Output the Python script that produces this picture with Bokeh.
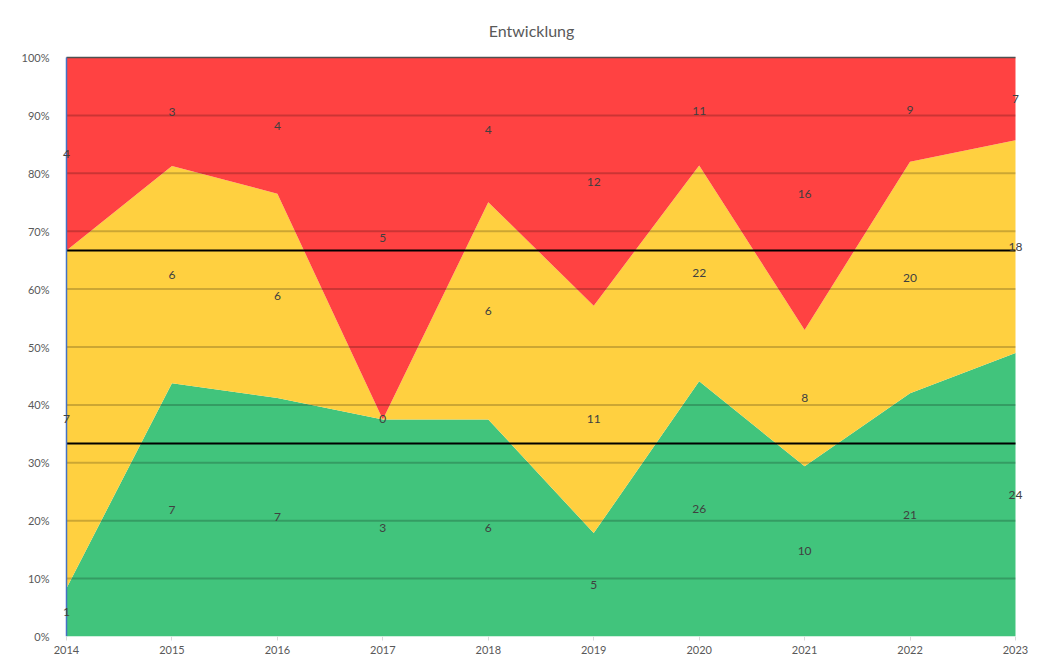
from bokeh.plotting import figure
from bokeh.models import ColumnDataSource, LabelSet, Label, FixedTicker, CustomJSTickFormatter
from bokeh.embed import file_html
from bokeh.resources import INLINE
from bokeh.core.properties import value

years = [2014, 2015, 2016, 2017, 2018, 2019, 2020, 2021, 2022, 2023]
green = [1, 7, 7, 3, 6, 5, 26, 10, 21, 24]
yellow = [7, 6, 6, 0, 6, 11, 22, 8, 20, 18]
red = [4, 3, 4, 5, 4, 12, 11, 16, 9, 7]
y_ticks = [0, 10, 20, 30, 40, 50, 60, 70, 80, 90, 100]
ref_levels = [100 / 3, 200 / 3]
title_text = "Entwicklung"

FONT = "Lato"
totals = [g + y + r for g, y, r in zip(green, yellow, red)]
gp = [100 * g / t for g, t in zip(green, totals)]
yp = [100 * y / t for y, t in zip(yellow, totals)]
rp = [100 * r / t for r, t in zip(red, totals)]

src = ColumnDataSource(dict(x=years, g=gp, y=yp, r=rp))

x0, x1 = years[0], years[-1]
PXY = (1015 - 66) / (x1 - x0)   # pixels per year
PXV = (636 - 57) / 100.0        # pixels per percent

p = figure(width=1042, height=666, output_backend="svg", toolbar_location=None,
           x_range=(x0 - 8 / PXY, x1 + 12 / PXY), y_range=(0, 100 + 47 / PXV),
           min_border_left=58, min_border_right=15, min_border_top=10, min_border_bottom=30)
p.outline_line_color = None
p.background_fill_color = "white"
p.grid.visible = False

p.varea_stack(["g", "y", "r"], x="x", source=src,
              color=["#41C47C", "#FFD040", "#FF4242"])

# gridlines drawn over the areas
inner = [t for t in y_ticks if 0 < t < 100]
p.segment(x0=[x0] * len(inner), x1=[x1] * len(inner), y0=inner, y1=inner,
          line_color="black", line_alpha=0.2, line_width=2)
# reference lines
p.segment(x0=[x0] * 2, x1=[x1] * 2, y0=ref_levels, y1=ref_levels,
          line_color="black", line_width=2)
# top edge line
p.line(x=[x0, x1], y=[100, 100], line_color="#505050", line_width=1.5)
# left axis line
p.line(x=[x0, x0], y=[0, 100], line_color="#4472C4", line_width=1.5)

p.yaxis.ticker = FixedTicker(ticks=y_ticks)
p.yaxis.formatter = CustomJSTickFormatter(code="return tick + '%';")
p.yaxis.major_tick_line_color = None
p.yaxis.minor_tick_line_color = None
p.yaxis.axis_line_color = None
p.yaxis.major_label_text_font = FONT
p.yaxis.major_label_text_font_size = "11px"
p.yaxis.major_label_text_color = "#595959"
p.yaxis.major_label_standoff = 3

p.xaxis.ticker = FixedTicker(ticks=years)
p.xaxis.minor_tick_line_color = None
p.xaxis.major_tick_line_color = "#D9D9D9"
p.xaxis.major_tick_in = 0
p.xaxis.major_tick_out = 4
p.xaxis.axis_line_color = None
p.xaxis.major_label_text_font = FONT
p.xaxis.major_label_text_font_size = "11px"
p.xaxis.major_label_text_color = "#595959"
p.xaxis.major_label_standoff = 5

# data labels at centre of each segment
lx, ly, lt = [], [], []
for i, yr in enumerate(years):
    lx += [yr, yr, yr]
    ly += [gp[i] / 2, gp[i] + yp[i] / 2, gp[i] + yp[i] + rp[i] / 2]
    lt += [str(green[i]), str(yellow[i]), str(red[i])]
lsrc = ColumnDataSource(dict(x=lx, y=ly, t=lt))
p.add_layout(LabelSet(x="x", y="y", text="t", source=lsrc, text_align="center",
                      text_baseline="middle", text_font=value(FONT), text_font_size="12px",
                      text_color="#404040"))

p.add_layout(Label(x=x0 + (531 - 66) / PXY, y=100 + (57 - 30) / PXV, text=title_text,
                   text_align="center", text_baseline="middle", text_font=FONT,
                   text_font_size="16px", text_color="#595959"))

open("out.html", "w").write(file_html(p, INLINE))
